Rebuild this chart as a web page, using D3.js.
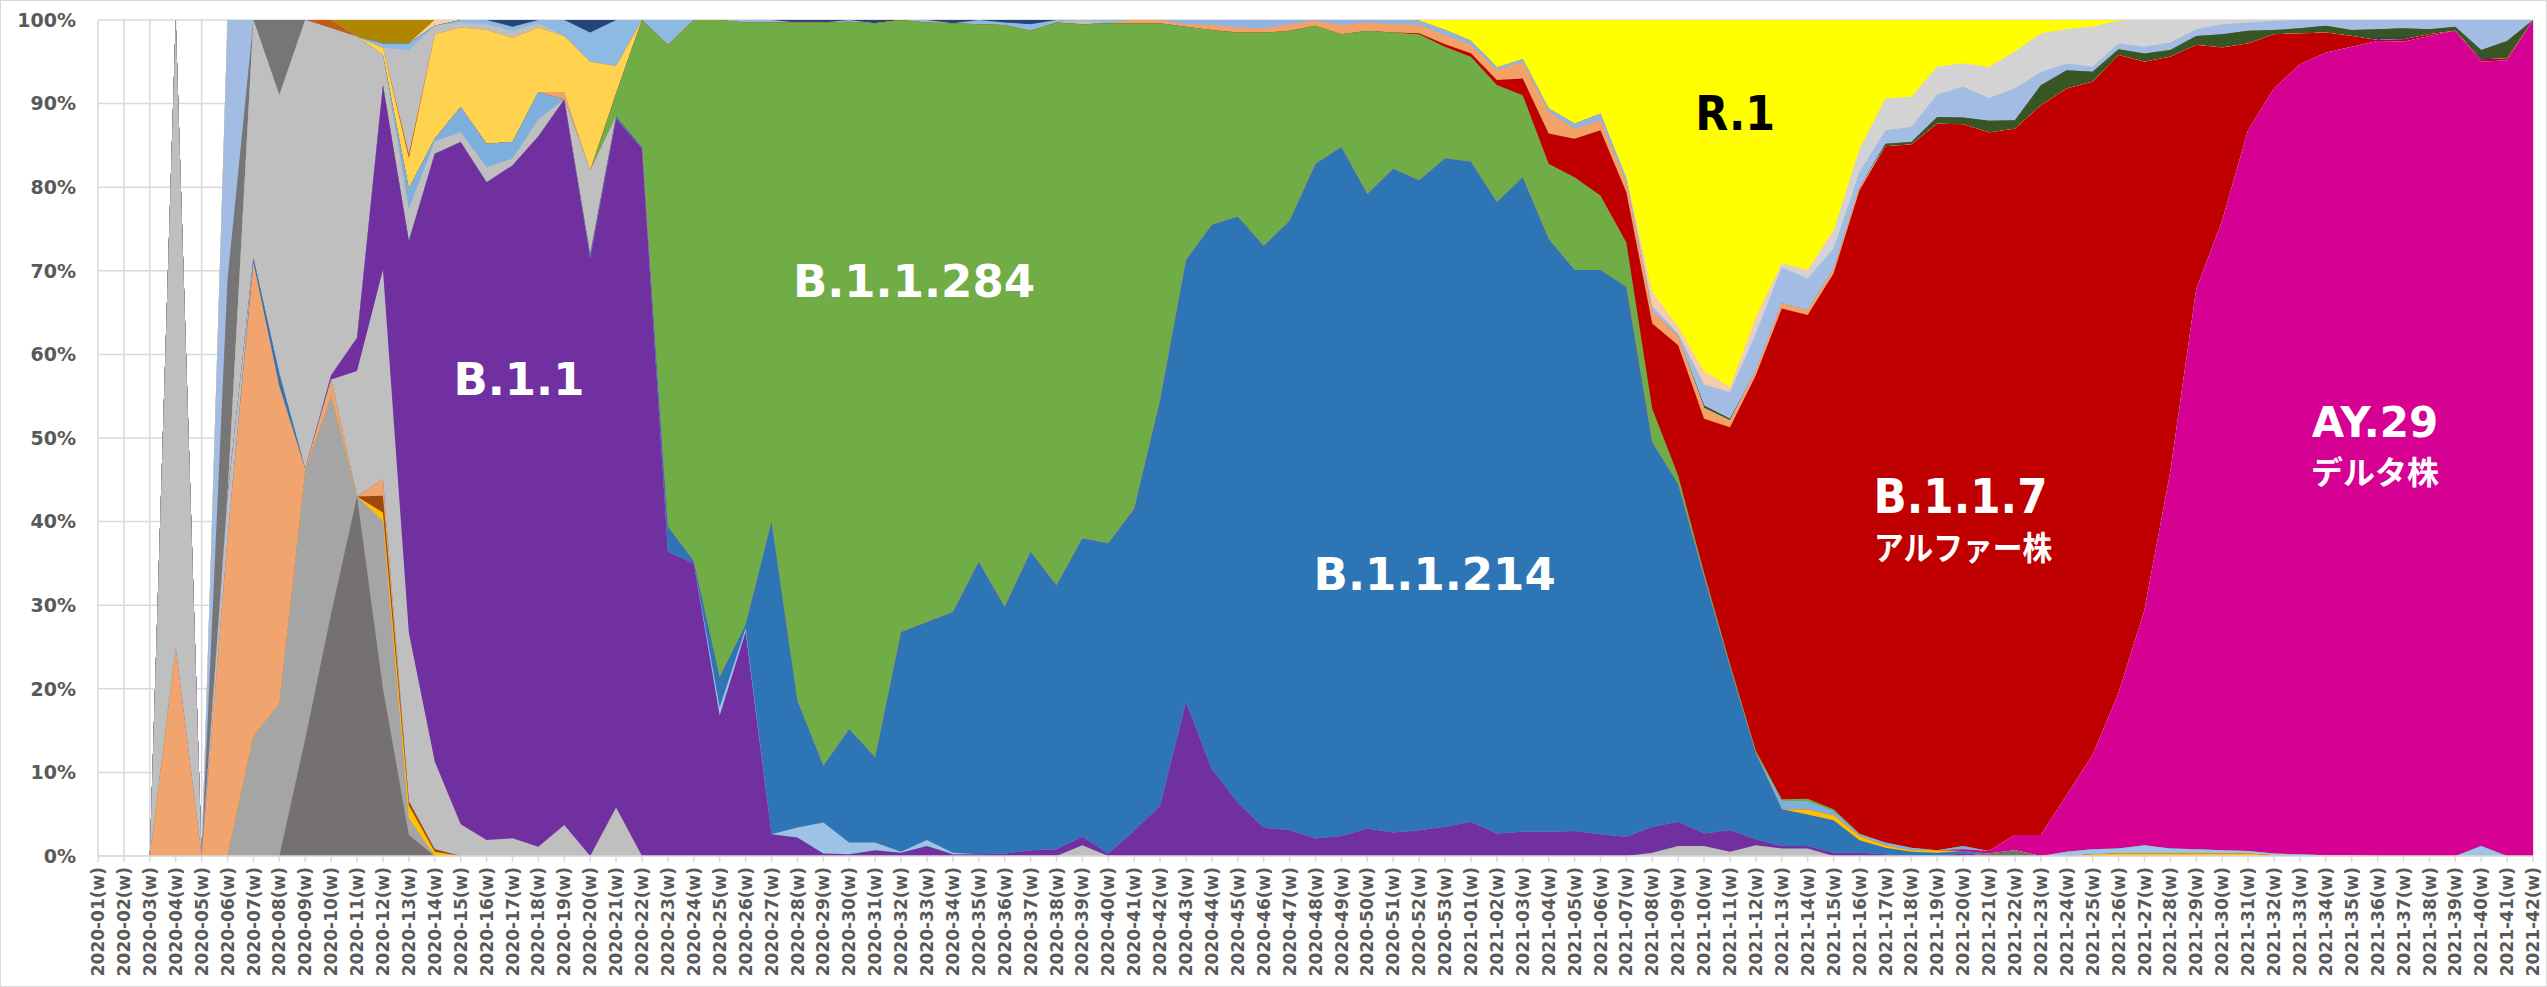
<!DOCTYPE html>
<html>
<head>
<meta charset="utf-8">
<script src="https://cdn.jsdelivr.net/npm/d3@7"></script>
<style>
  body { margin: 0; background: #fff; }
  text { font-family: "DejaVu Sans", Verdana, sans-serif; }
</style>
</head>
<body>
<svg id="chart"></svg>
<script>
// weeks on the x axis: 2020-01(w) .. 2020-53(w), 2021-01(w) .. 2021-42(w)
var yearWeeks = [[2020, 53], [2021, 42]]
var weeks = yearWeeks.flatMap(([yr, n]) => d3.range(1, n + 1).map(w => yr + '-' + String(w).padStart(2, '0') + '(w)'))

var yTicks = [0, .1, .2, .3, .4, .5, .6, .7, .8, .9, 1]

// share per week, stacked bottom -> top, each row: 2020 then 2021
var dGray = [
  0,0,0,0,0,0,0,0,14,29, 43,20,2.5,0,0,0,0,0,0,0, 0,0,0,0,0,0,0,0,0,0, 0,0,0,0,0,0,0,0,0,0, 0,0,0,0,0,0,0,0,0,0, 0,0,0,
  0,0,0,0,0,0,0,0,0,0, 0,0,0,0,0,0,0,0,0,0, 0.3,0.7,0,0,0,0,0,0,0,0, 0,0,0,0,0,0,0,0,0,0, 0,0]
var mGray = [
  0,0,0,0,0,0,14.3,18.2,32,26, 0,20,2,0,0,0,0,0,0,0, 0,0,0,0,0,0,0,0,0,0, 0,0,0,0,0,0,0,0,0,0, 0,0,0,0,0,0,0,0,0,0, 0,0,0,
  0,0,0,0,0,0,0,0,0,0, 0,0,0,0,0,0,0,0,0,0, 0,0,0,0,0,0,0,0,0,0, 0,0,0,0,0,0,0,0,0,0, 0,0]
var gold = [
  0,0,0,0,0,0,0,0,0,0, 0,1,1.5,0.5,0,0,0,0,0,0, 0,0,0,0,0,0,0,0,0,0, 0,0,0,0,0,0,0,0,0,0, 0,0,0,0,0,0,0,0,0,0, 0,0,0,
  0,0,0,0,0,0,0,0,0,0, 0,0,0,0,0,0,0,0,0,0, 0,0,0,0,0.2,0.3,0.3,0.3,0.3,0.3, 0.3,0.1,0,0,0,0,0,0,0,0, 0,0]
var brown = [
  0,0,0,0,0,0,0,0,0,0, 0,2,0.5,0.3,0,0,0,0,0,0, 0,0,0,0,0,0,0,0,0,0, 0,0,0,0,0,0,0,0,0,0, 0,0,0,0,0,0,0,0,0,0, 0,0,0,
  0,0,0,0,0,0,0,0,0,0, 0,0,0,0,0,0,0,0,0,0, 0,0,0,0,0,0,0,0,0,0, 0,0,0,0,0,0,0,0,0,0, 0,0]
var salmon = [
  0,0,0,25,0,38,56.7,38,0.3,2, 0,2,0,0,0,0,0,0,0,0, 0,0,0,0,0,0,0,0,0,0, 0,0,0,0,0,0,0,0,0,0, 0,0,0,0,0,0,0,0,0,0, 0,0,0,
  0,0,0,0,0,0,0,0,0,0, 0,0,0,0,0,0,0,0,0,0, 0,0,0,0,0,0,0,0,0,0, 0,0,0,0,0,0,0,0,0,0, 0,0]
var blueThin = [
  0,0,0,0,0,0,0.5,1.5,0,0, 0,0,0,0,0,0,0,0,0,0, 0,0,0,0,0,0,0,0,0,0, 0,0,0,0,0,0,0,0,0,0, 0,0,0,0,0,0,0,0,0,0, 0,0,0,
  0,0,0,0,0,0,0,0,0,0, 0,0,0,0,0,0,0,0,0,0, 0,0,0,0,0,0,0,0,0,0, 0,0,0,0,0,0,0,0,0,0, 0,0]
var lGray = [
  0,0,0,75,0,5,0,0,0,0, 15,25,20,10.5,3.8,1.9,2.1,1.1,3.7,0, 5.8,0,0,0,0,0,0,0,0,0, 0,0,0,0,0,0,0,0,1.3,0, 0,0,0,0,0,0,0,0,0,0, 0,0,0,
  0,0,0,0,0,0,0,0.4,1.2,1.2, 0.5,1.3,0.9,0.9,0,0,0,0,0,0, 0,0,0,0,0,0,0,0,0,0, 0,0,0,0,0,0,0,0,0,0, 0,0]
var b11 = [
  0,0,0,0,0,0,0,0,0,0.5, 4,22,46.5,72.7,81.6,78.7,80,85,86.8,71.5, 82.4,84.6,36.4,35,16.8,26.8,2.6,2.2,0.3,0.2,
  0.7,0.4,1.2,0.2,0.2,0.3,0.7,0.8,1.0,0.3, 3.0,6.0,18.4,10.4,6.4,3.4,3.1,2.1,2.4,3.3, 2.8,3.1,3.5,
  4.1,2.7,2.9,2.9,3.0,2.6,2.3,3.1,2.9,1.5, 2.6,0.7,0.3,0.3,0.4,0.4,0.2,0,0,0.3, 0,0,0,0,0,0,0,0,0,0, 0,0,0,0,0,0,0,0,0,0, 0,0]
var lblueLow = [
  0,0,0,0,0,0,0,0,0,0, 0,0,0,0,0,0,0,0,0,0, 0,0,0,0,1,0.4,0,1.2,3.7,1.4, 0.9,0.1,0.7,0.2,0,0,0,0,0,0, 0,0,0,0,0,0,0,0,0,0, 0,0,0,
  0,0,0,0,0,0,0,0,0,0, 0,0,0,0,0,0,0,0,0,0, 0,0,0,0.5,0.6,0.6,1.0,0.6,0.5,0.4, 0.3,0.2,0.2,0.1,0.1,0,0,0,0,1.2, 0,0]
var b11214 = [
  0,0,0,0,0,0,0,0,0,0, 0,0,0,0,0,0,0,0,0,0.5, 0.3,0.2,3,0.3,3.6,0.5,37.4,15.2,6.8,13.6,
  10.2,26.3,26.1,28.8,35,29.5,35.7,31.6,35.7,37.1, 38.4,48.4,52.9,65.1,70.1,69.6,72.9,80.7,82.4,75.9, 79.4,77.9,80.3,
  79.3,75.7,78.3,71,67.1,67.5,65.8,46,40.4,30.7, 19.5,10.3,4.4,3.8,3.9,1.5,0.8,0.5,0.4,0.3, 0,0,0,0,0,0,0,0,0,0, 0,0,0,0,0,0,0,0,0,0, 0,0]
var gold2 = [
  0,0,0,0,0,0,0,0,0,0, 0,0,0,0,0,0,0,0,0,0, 0,0,0,0,0,0,0,0,0,0, 0,0,0,0,0,0,0,0,0,0, 0,0,0,0,0,0,0,0,0,0, 0,0,0,
  0,0,0,0,0,0,0,0,0,0, 0,0,0,0.6,0.6,0.5,0.3,0.2,0.3,0, 0,0,0,0,0,0,0,0,0,0, 0,0,0,0,0,0,0,0,0,0, 0,0]
var ay29 = [
  0,0,0,0,0,0,0,0,0,0, 0,0,0,0,0,0,0,0,0,0, 0,0,0,0,0,0,0,0,0,0, 0,0,0,0,0,0,0,0,0,0, 0,0,0,0,0,0,0,0,0,0, 0,0,0,
  0,0,0,0,0,0,0,0,0,0, 0,0,0,0,0,0,0,0,0,0.2, 0.3,1.8,2.5,6.8,11.3,18.6,28.1,45.1,67,75.3,
  86.2,91.5,94.4,95.9,96.7,97.5,97.4,98.1,98.7,93.8, 95.2,100]
var lGray2 = [
  0,0,0,0,0,0,28.5,33.3,53.7,41.5, 36,3.6,3.8,1.5,1.2,1.8,0.8,2,0,10, 0,0,0,0,0,0,0,0,0,0, 0,0,0,0,0,0,0,0,0,0, 0,0,0,0,0,0,0,0,0,0, 0,0,0,
  0,0,0,0,0,0,0,0,0,0, 0,0,0,0,0,0,0,0,0,0, 0,0,0,0,0,0,0,0,0,0, 0,0,0,0,0,0,0,0,0,0, 0,0]
var lblue3 = [
  0,0,0,0,0,0,0,0,0,0, 0,0,2.4,0.3,3,2.8,2,3.3,0,0, 0,0,0,0,0,0,0,0,0,0, 0,0,0,0,0,0,0,0,0,0, 0,0,0,0,0,0,0,0,0,0, 0,0,0,
  0,0,0,0,0,0,0,0,0,0, 0,0,1.0,1.0,0.5,0.2,0.3,0.3,0,0.4, 0,0,0,0,0,0,0,0,0,0, 0,0,0,0,0,0,0,0,0,0, 0,0]
var b11284 = [
  0,0,0,0,0,0,0,0,0,0, 0,0,0,0,0,0,0,0,0,0, 2.7,15.2,57.6,64.7,78.6,72,59.7,81.1,88.9,84.6,
  87.8,73.2,71.7,70.4,64.3,69.6,62.3,67.3,61.5,62.2, 57.9,44.9,27.9,23.3,22,25.5,22.7,16.5,13.5,19.5, 16.3,17.5,13.4,
  12.6,14,9.8,9,11.1,8.9,5.3,4,1,0.5, 0.4,0.3,0.2,0.3,0.2,0.1,0,0,0,0, 0,0,0,0,0,0,0,0,0,0, 0,0,0,0,0,0,0,0,0,0, 0,0]
var b117 = [
  0,0,0,0,0,0,0,0,0,0, 0,0,0,0,0,0,0,0,0,0, 0,0,0,0,0,0,0,0,0,0, 0,0,0,0,0,0,0,0,0,0, 0,0,0,0,0,0,0,0,0,0, 0,0.1,0.3,
  0.4,0.6,2,3.6,4.6,7.8,6,10.2,15.6,18.4, 28.3,44.9,58.7,58.4,64.3,77.5,83.3,84.1,86.9,86.5,
  85.6,84.5,87.1,84.5,80.5,76.3,65.6,49.6,29.2,20.7, 10.4,6.5,3.7,2.4,1.3,0.1,0.3,0.2,0,0.3, 0.2,0]
var orange = [
  0,0,0,0,0,0,0,0,0,0, 0,0,0,0,0,0,0,0,0.9,0, 0,0,0,0,0,0,0,0,0,0, 0,0,0,0,0,0,0,0,0,0, 0.4,0.4,0.3,0.6,0.6,0.5,0.8,0.6,1.1,1.0, 1.0,1.0,1.1,
  1.0,1.2,2.0,2.6,1.2,1.2,1.2,1.5,1.0,1.3, 0.8,0.5,0.6,0.6,0.5,0.3,0,0,0,0, 0,0,0,0,0,0,0,0,0,0, 0,0,0,0,0,0,0,0,0,0, 0,0]
var lblue2 = [
  0,0,0,0,0,0,0,0,0,0, 0,0,0,0,0,0,0,0,0,0, 0,0,0,0,0,0,0,0,0,0, 0,0,0,0,0,0,0,0,0,0, 0,0,0.5,0.6,0.9,1,0.5,0.1,0.6,0.3, 0.5,0.5,0.6,
  0.5,0.3,0.3,0.4,0.6,0.8,0,0,0,0, 0,0,0,0,0,0,0,0,0,0, 0,0,0,0,0,0,0,0,0,0, 0,0,0,0,0,0,0,0,0,0, 0,0]
var yellow20 = [
  0,0,0,0,0,0,0,0,0,0, 0,0.9,3.6,12.5,9.5,13.6,12.4,7.7,6.7,13, 3.3,0,0,0,0,0,0,0,0,0, 0,0,0,0,0,0,0,0,0,0, 0,0,0,0,0,0,0,0,0,0, 0,0,0,
  0,0,0,0,0,0,0,0,0,0, 0,0,0,0,0,0,0,0,0,0, 0,0,0,0,0,0,0,0,0,0, 0,0,0,0,0,0,0,0,0,0, 0,0]
var brownTop = [
  0,0,0,0,0,0,0,0,0,1, 0,0,0.5,0,0,0,0,0,0,0, 0,0,0,0,0,0,0,0,0,0, 0,0,0,0,0,0,0,0,0,0, 0,0,0,0,0,0,0,0,0,0, 0,0,0,
  0,0,0,0,0,0,0,0,0,0, 0,0,0,0,0,0,0,0,0,0, 0,0,0,0,0,0,0,0,0,0, 0,0,0,0,0,0,0,0,0,0, 0,0]
var lGray4 = [
  0,0,0,0,0,0,0,0,0,0, 0,0,12.3,1,0.6,0.7,0.8,0.5,0,0, 0,0,0,0,0,0,0,0,0,0, 0,0,0,0,0,0,0,0,0.5,0, 0,0,0,0,0,0,0,0,0,0, 0,0,0,
  0,0,0,0,0,0,0,0,0,0, 0,0,0,0,0,0,0,0,0,0, 0,0,0,0,0,0,0,0,0,0, 0,0,0,0,0,0,0,0,0,0, 0,0]
var lblueTop = [
  0,0,0,0,0,0,0,0,0,0, 0,0.5,0.8,0,0.3,0.5,0.5,0.4,1.9,3.5, 5.5,0,3,0,0,0.3,0.3,0,0,0.2, 0,0,0.3,0,0.5,0.3,0.8,0.3,0,0.4, 0,0,0,0,0,0,0,0,0,0, 0,0,0,
  0,0,0,0,0,0,0,0,0,0, 0,0,0,0,0,0,0,0,0,0, 0,0,0,0,0,0,0,0,0,0, 0,0,0,0,0,0,0,0,0,0, 0,0]
var navy = [
  0,0,0,0,0,0,0,0,0,0, 0,0,0,0,0,0,0.8,0,0,1.5, 0,0,0,0,0,0,0,0.3,0.3,0, 0.4,0,0,0.4,0,0.3,0.5,0,0,0, 0,0,0,0,0,0,0,0,0,0, 0,0,0,
  0,0,0,0,0,0,0,0,0,0, 0,0,0,0,0,0,0,0,0,0, 0,0,0,0,0,0,0,0,0,0, 0,0,0,0,0,0.3,0.3,0,0,0.3, 0,0]
var dkGreen = [
  0,0,0,0,0,0,0,0,0,0, 0,0,0,0,0,0,0,0,0,0, 0,0,0,0,0,0,0,0,0,0, 0,0,0,0,0,0,0,0,0,0, 0,0,0,0,0,0,0,0,0,0, 0,0,0,
  0,0,0,0,0,0,0,0,0,0.3, 0.2,0,0,0,0,0,0.3,0.3,0.8,0.8, 1.4,1,2.4,2.2,1.2,0.7,1,0.8,1.1,1.6,
  1.5,0.5,0.6,0.8,0.7,1.0,1.0,0.6,0.5,0.8, 2.1,0]
var dGray2 = [
  0,0,0,0,0,26,0,9,0,0, 0,0,0,0,0,0,0,0,0,0, 0,0,0,0,0,0,0,0,0,0, 0,0,0,0,0,0,0,0,0,0, 0,0,0,0,0,0,0,0,0,0, 0,0,0,
  0,0,0,0,0,0,0,0,0,0, 0,0,0,0,0,0,0,0,0,0, 0,0,0,0,0,0,0,0,0,0, 0,0,0,0,0,0,0,0,0,0, 0,0]
var lblueA = [
  0,0,0,0,0,31,0,0,0,0, 0,0,0,0,0,0,0,0,0,0, 0,0,0,0,0,0,0,0,0,0, 0,0,0,0,0,0,0,0,0,0, 0,0,0,0,0,0,0,0,0,0, 0,0,0,
  0,0,0,0,0,0,0.6,0.6,0.4,2.5, 3.2,4.5,4.3,3.8,2.5,1.9,1.6,1.8,2.7,3.7, 2.7,3.8,1.6,0.8,0.6,0.7,0.8,0.9,0.8,1.2,
  1,1.1,1,0.7,1.2,1.1,1,1.1,0.8,3.6, 2.5,0]
var lGray3 = [
  0,0,0,0,0,0,0,0,0,0, 0,0,0,0,0,0,0,0,0,0, 0,0,0,0,0,0,0,0,0,0, 0,0,0,0,0,0,0,0,0,0, 0,0,0,0,0,0,0,0,0,0, 0,0,0,
  0,0,0,0,0,0,0,0,0,0, 0,1,0.3,0.8,1.9,2.6,3.8,3.6,3.3,2.8, 3.7,4.4,4.6,4.1,4.8,2.7,3.2,2.7,1.1,0.5,
  0.3,0.1,0,0,0,0,0,0,0,0, 0,0]
var peach = [
  0,0,0,0,0,0,0,0,0,0, 0,0,0,0.7,0,0,0,0,0,0, 0,0,0,0,0,0,0,0,0,0, 0,0,0,0,0,0,0,0,0,0, 0,0,0,0,0,0,0,0,0,0, 0,0,0,
  0,0,0,0,0,0,0,1.7,0.8,1.6, 0.6,1,0.2,0.3,0.3,0.2,0,0,0,0, 0,0,0,0,0,0,0,0,0,0, 0,0,0,0,0,0,0,0,0,0, 0,0]
var r1 = [
  0,0,0,0,0,0,0,0,0,0, 0,0,0,0,0,0,0,0,0,0, 0,0,0,0,0,0,0,0,0,0, 0,0,0,0,0,0,0,0,0,0, 0,0,0,0,0,0,0,0,0,0, 0,0.1,1.2,
  2.5,5.7,4.7,10.6,12.4,11.2,18.8,32.5,36.7,42, 43.9,35.5,29.1,30.1,25.2,15.5,9.4,9.2,5.6,5.2,
  5.6,3.8,1.6,1.1,0.8,0.1,0,0,0,0, 0,0,0,0,0,0,0,0,0,0, 0,0]
var olive = [
  0,0,0,0,0,0,0,0,0,0, 2,2.8,2.8,0,0,0,0,0,0,0, 0,0,0,0,0,0,0,0,0,0, 0,0,0,0,0,0,0,0,0,0, 0,0,0,0,0,0,0,0,0,0, 0,0,0,
  0,0,0,0,0,0,0,0,0,0, 0,0,0,0,0,0,0,0,0,0, 0,0,0,0,0,0,0,0,0,0, 0,0,0,0,0,0,0,0,0,0, 0,0]

var series = [
  {key: 'dGray', values: dGray, color: '#767171'},
  {key: 'mGray', values: mGray, color: '#a5a5a5'},
  {key: 'gold', values: gold, color: '#ffc000'},
  {key: 'brown', values: brown, color: '#9e480e'},
  {key: 'salmon', values: salmon, color: '#f2a46e'},
  {key: 'blueThin', values: blueThin, color: '#2e75b6'},
  {key: 'lGray', values: lGray, color: '#bfbfbf'},
  {key: 'B.1.1', values: b11, color: '#7030a0'},
  {key: 'lblueLow', values: lblueLow, color: '#9dc3e6'},
  {key: 'B.1.1.214', values: b11214, color: '#2e75b6'},
  {key: 'gold2', values: gold2, color: '#ffc000'},
  {key: 'AY.29', values: ay29, color: '#d60093'},
  {key: 'lGray2', values: lGray2, color: '#bfbfbf'},
  {key: 'lblue3', values: lblue3, color: '#7eb0de'},
  {key: 'B.1.1.284', values: b11284, color: '#70ad47'},
  {key: 'B.1.1.7', values: b117, color: '#c00000'},
  {key: 'orange', values: orange, color: '#f2a266'},
  {key: 'lblue2', values: lblue2, color: '#8fb4e3'},
  {key: 'yellow20', values: yellow20, color: '#ffd34f'},
  {key: 'brownTop', values: brownTop, color: '#c55a11'},
  {key: 'lGray4', values: lGray4, color: '#bfbfbf'},
  {key: 'lblueTop', values: lblueTop, color: '#8dbae3'},
  {key: 'navy', values: navy, color: '#264478'},
  {key: 'dkGreen', values: dkGreen, color: '#375623'},
  {key: 'dGray2', values: dGray2, color: '#767676'},
  {key: 'lblueA', values: lblueA, color: '#a3bce3'},
  {key: 'lGray3', values: lGray3, color: '#d3d3d3'},
  {key: 'peach', values: peach, color: '#f8cbad'},
  {key: 'R.1', values: r1, color: '#ffff00'},
  {key: 'olive', values: olive, color: '#b08600'}
]

var annotations = [
  {text: 'B.1.1', at: 16.25, share: .551, size: 45, fill: '#fff'},
  {text: 'B.1.1.284', at: 31.5, share: .669, size: 45, fill: '#fff'},
  {text: 'B.1.1.214', at: 51.6, share: .318, size: 45, fill: '#fff'},
  {text: 'R.1', at: 63.2, share: .868, size: 48, len: 80, fill: '#000'},
  {text: 'B.1.1.7', at: 71.9, share: .41, size: 48, len: 174, fill: '#fff'},
  {text: 'アルファー株', at: 72.0, share: .354, size: 33, len: 178, fill: '#fff', cjk: 1},
  {text: 'AY.29', at: 87.9, share: .501, size: 42, fill: '#fff'},
  {text: 'デルタ株', at: 87.9, share: .445, size: 32, fill: '#fff', cjk: 1}
]

var width = 2547, height = 987
var svg = d3.select('#chart').attr('width', width).attr('height', height)

svg.append('rect')
  .attr('x', 0.5).attr('y', 0.5).attr('width', width - 1).attr('height', height - 1)
  .attr('fill', '#fff').attr('stroke', '#d9d9d9')

var x = d3.scaleLinear().domain([0, weeks.length - 1]).range([98, 2533])
var y = d3.scaleLinear().domain([0, 1]).range([856, 20])

var table = weeks.map((w, i) => {
  var row = {week: w}
  series.forEach(s => row[s.key] = s.values[i])
  return row
})

var stacked = d3.stack()
  .keys(series.map(s => s.key))
  .order(d3.stackOrderNone)
  .offset(d3.stackOffsetExpand)(table)

// grid
var grid = svg.append('g')
grid.selectAll('line.h').data(yTicks).join('line')
  .attr('x1', x(0)).attr('x2', x(weeks.length - 1))
  .attr('y1', d => y(d)).attr('y2', d => y(d))
  .attr('stroke', '#d9d9d9').attr('stroke-width', 1.5)
grid.selectAll('line.v').data(weeks).join('line')
  .attr('x1', (d, i) => x(i)).attr('x2', (d, i) => x(i))
  .attr('y1', y(0)).attr('y2', y(1))
  .attr('stroke', '#d9d9d9').attr('stroke-width', 1.5)

// areas: each drawn from the baseline up to its own top, top series first,
// so neighbouring layers share no anti-aliased seam
var area = d3.area()
  .x((d, i) => x(i))
  .y0(y(0))
  .y1(d => y(d[1]))

svg.append('g').selectAll('path')
  .data(stacked.slice().reverse())
  .join('path')
  .attr('d', area)
  .attr('fill', d => series[d.index].color)

// x axis line and ticks
svg.append('line')
  .attr('x1', x(0)).attr('x2', x(weeks.length - 1))
  .attr('y1', y(0)).attr('y2', y(0))
  .attr('stroke', '#d9d9d9').attr('stroke-width', 1.5)
svg.append('g').selectAll('line').data(weeks).join('line')
  .attr('x1', (d, i) => x(i)).attr('x2', (d, i) => x(i))
  .attr('y1', y(0)).attr('y2', y(0) + 6)
  .attr('stroke', '#d9d9d9').attr('stroke-width', 1.5)

svg.append('g').selectAll('text').data(yTicks).join('text')
  .attr('x', 76).attr('y', d => y(d))
  .attr('dy', '0.36em')
  .attr('text-anchor', 'end')
  .attr('font-size', 19).attr('font-weight', 700).attr('fill', '#595959')
  .text(d => d3.format('.0%')(d))

svg.append('g').selectAll('text').data(weeks).join('text')
  .attr('transform', (d, i) => `translate(${x(i)},867) rotate(-90)`)
  .attr('dy', '0.36em')
  .attr('text-anchor', 'end')
  .attr('font-size', 17).attr('font-weight', 700).attr('fill', '#595959')
  .text(d => d)

// lineage labels
var labelSel = svg.append('g').selectAll('text').data(annotations).join('text')
  .attr('x', d => x(d.at)).attr('y', d => y(d.share))
  .attr('text-anchor', 'middle')
  .attr('font-size', d => d.size).attr('font-weight', 700)
  .attr('fill', d => d.fill)
  .style('font-family', d => d.cjk ? '"Noto Sans CJK JP", sans-serif' : null)
  .text(d => d.text)
labelSel.filter(d => d.len)
  .attr('textLength', d => d.len)
  .attr('lengthAdjust', 'spacingAndGlyphs')
</script>
</body>
</html>
